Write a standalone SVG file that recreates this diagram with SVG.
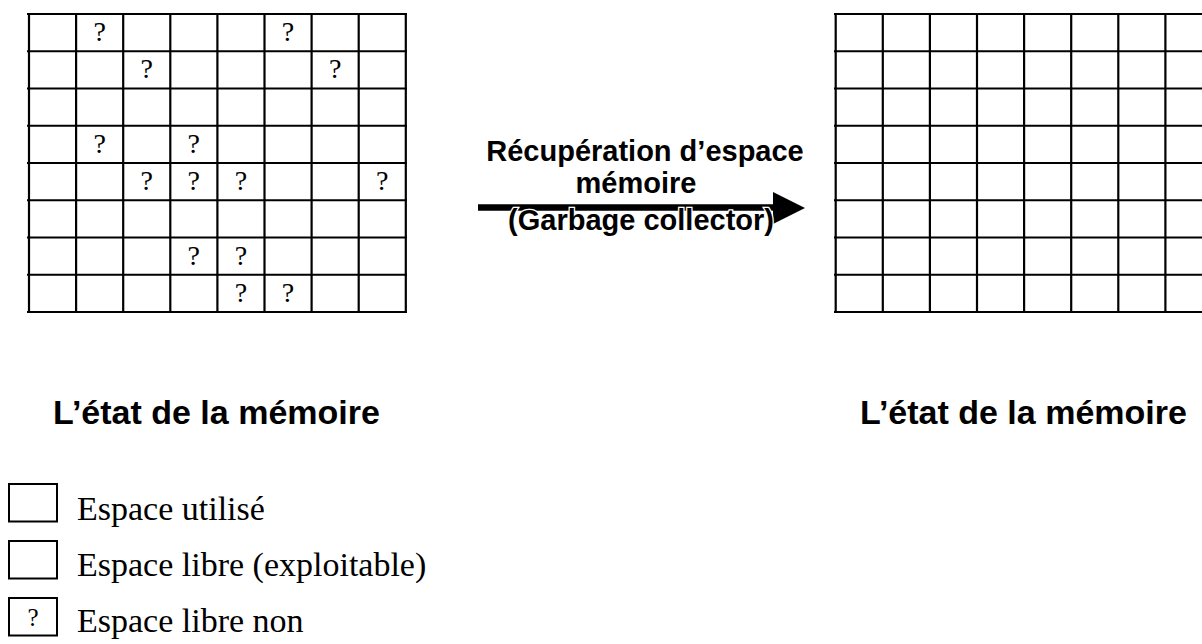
<svg xmlns="http://www.w3.org/2000/svg" width="1202" height="644" viewBox="0 0 1202 644">
<style>
.g{stroke:#000;stroke-width:2.2;fill:none}
.q{font-family:"Liberation Serif",serif;font-size:28px;fill:#000;text-anchor:middle}
.lbl{font-family:"Liberation Sans",Arial,sans-serif;font-weight:bold;font-size:29px;fill:#000;text-anchor:middle}
.ttl{font-family:"Liberation Sans",Arial,sans-serif;font-weight:bold;font-size:34px;fill:#000}
.leg{font-family:"Liberation Serif",serif;font-size:34px;fill:#000}
.box{stroke:#000;stroke-width:2;fill:#fff}
</style>
<rect width="1202" height="644" fill="#fff"/>
<g id="memory-before">
<path class="g" d="M27 14H407M27 51.25H407M27 88.5H407M27 125.75H407M27 163H407M27 200.25H407M27 237.5H407M27 274.75H407M27 312H407M29 14V313M76.1 14V313M123.2 14V313M170.3 14V313M217.4 14V313M264.5 14V313M311.6 14V313M358.7 14V313M405.8 14V313"/>
<g class="q">
<text x="99.6" y="41">?</text><text x="288" y="41">?</text>
<text x="146.8" y="78">?</text><text x="335.2" y="78">?</text>
<text x="99.6" y="153">?</text><text x="193.8" y="153">?</text>
<text x="146.8" y="190">?</text><text x="193.8" y="190">?</text><text x="241" y="190">?</text><text x="382.3" y="190">?</text>
<text x="193.8" y="265">?</text><text x="241" y="265">?</text>
<text x="241" y="302">?</text><text x="288" y="302">?</text>
</g>
</g>
<g id="memory-after">
<path class="g" d="M834 14H1202M834 51.25H1202M834 88.5H1202M834 125.75H1202M834 163H1202M834 200.25H1202M834 237.5H1202M834 274.75H1202M834 312H1202M835.7 14V313M882.8 14V313M929.9 14V313M977 14V313M1024.1 14V313M1071.2 14V313M1118.3 14V313M1165.4 14V313"/>
</g>
<g id="connectors">
<line x1="478" y1="207.5" x2="776" y2="207.5" stroke="#000" stroke-width="6.5"/>
<polygon points="773,192 805,208 773,224" fill="#000"/>
</g>
<g id="arrow-label">
<text class="lbl" x="645" y="161">Récupération d’espace</text>
<text class="lbl" x="636" y="193">mémoire</text>
<text class="lbl" x="641" y="230" stroke="#fff" stroke-width="2.5" paint-order="stroke">(Garbage collector)</text>
</g>
<g id="title-before"><text class="ttl" x="53" y="424">L’état de la mémoire</text></g>
<g id="title-after"><text class="ttl" x="860" y="424">L’état de la mémoire</text></g>
<g id="legend-used"><rect class="box" x="9" y="484" width="48" height="37.5"/><text class="leg" x="77" y="520">Espace utilisé</text></g>
<g id="legend-free"><rect class="box" x="9" y="541" width="48" height="37.5"/><text class="leg" x="77" y="576">Espace libre (exploitable)</text></g>
<g id="legend-unusable"><rect class="box" x="9" y="598" width="48" height="37.5"/><text class="q" x="33" y="626" style="font-size:25px">?</text><text class="leg" x="77" y="632">Espace libre non</text></g>
</svg>
